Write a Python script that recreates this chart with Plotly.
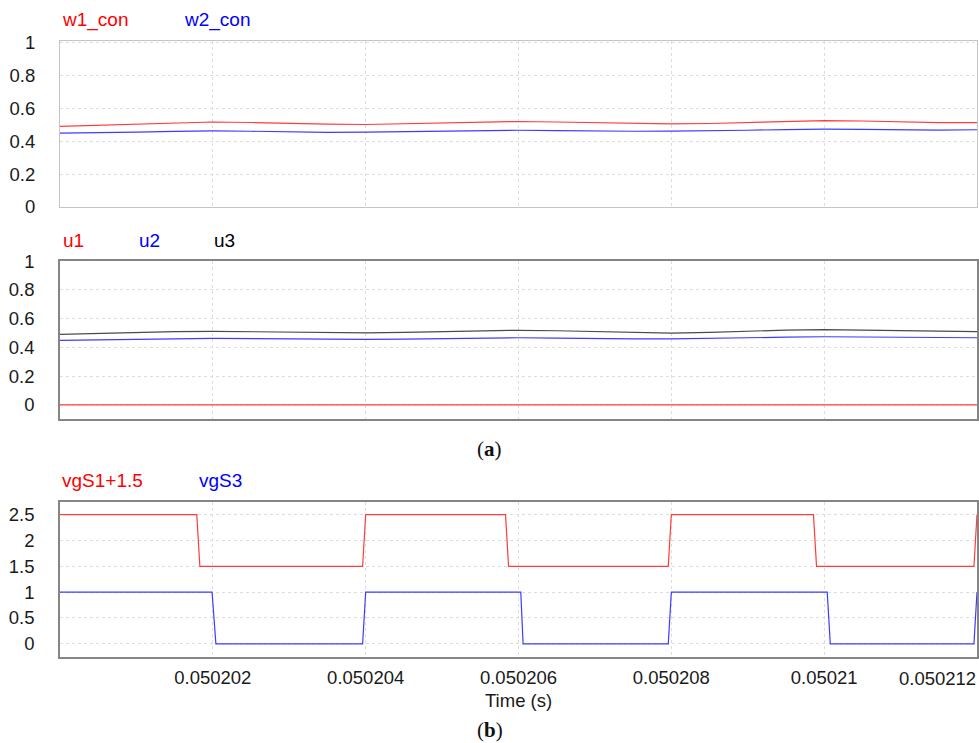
import plotly.graph_objects as go

T0 = 0.0502  # start time (s)

# ---- panel (a) top: control signals, sampled every 0.5 us ----
t_us = [0, 0.5, 1.0, 1.5, 2.0, 2.5, 3.0, 3.5, 4.0, 4.5, 5.0, 5.5, 6.0,
        6.5, 7.0, 7.5, 8.0, 8.5, 9.0, 9.5, 10.0, 10.5, 11.0, 11.5, 12.0]
w1_con = [0.490, 0.497, 0.505, 0.512, 0.516, 0.513, 0.507, 0.503, 0.501, 0.505,
          0.511, 0.516, 0.519, 0.516, 0.511, 0.507, 0.505, 0.507, 0.514, 0.521,
          0.525, 0.522, 0.517, 0.512, 0.512]
w2_con = [0.448, 0.450, 0.454, 0.459, 0.462, 0.460, 0.455, 0.453, 0.455, 0.458,
          0.461, 0.464, 0.466, 0.464, 0.461, 0.460, 0.461, 0.462, 0.466, 0.470,
          0.473, 0.471, 0.467, 0.467, 0.469]

# ---- panel (a) middle: modulating signals ----
u1 = [0.0] * 25
u2 = [0.449, 0.451, 0.455, 0.460, 0.463, 0.461, 0.456, 0.454, 0.456, 0.458,
      0.462, 0.465, 0.467, 0.465, 0.461, 0.459, 0.460, 0.462, 0.466, 0.471,
      0.474, 0.471, 0.468, 0.467, 0.467]
u3 = [0.491, 0.498, 0.504, 0.510, 0.512, 0.510, 0.506, 0.502, 0.501, 0.505,
      0.511, 0.517, 0.519, 0.516, 0.510, 0.503, 0.500, 0.505, 0.513, 0.520,
      0.523, 0.520, 0.515, 0.511, 0.510]

# ---- panel (b): gate signals ----
vgs1_t = [0, 1.79, 1.83, 3.96, 4.00, 5.83, 5.87, 7.96, 8.00, 9.86, 9.90, 11.96, 12.0]
vgs1 = [2.5, 2.5, 1.5, 1.5, 2.5, 2.5, 1.5, 1.5, 2.5, 2.5, 1.5, 1.5, 2.5]
vgs3_t = [0, 1.99, 2.04, 3.96, 4.00, 6.03, 6.06, 7.96, 8.00, 10.04, 10.08, 11.96, 12.0]
vgs3 = [1, 1, 0, 0, 1, 1, 0, 0, 1, 1, 0, 0, 1]

x_ticks = [0.050202, 0.050204, 0.050206, 0.050208, 0.05021, 0.050212]
x_tick_text = ["0.050202", "0.050204", "0.050206", "0.050208", "0.05021", "0.050212"]


def tx(ts):
    return [T0 + v * 1e-6 for v in ts]


RED = "#ff0000"
BLUE = "#0000ff"
BLACK = "#000000"
LRED = "#ff3c3c"
LBLUE = "#3c3cff"
LW = 1.2

fig = go.Figure()
fig.add_trace(go.Scatter(x=tx(t_us), y=w1_con, mode="lines", line=dict(color=LRED, width=LW), xaxis="x", yaxis="y"))
fig.add_trace(go.Scatter(x=tx(t_us), y=w2_con, mode="lines", line=dict(color=LBLUE, width=LW), xaxis="x", yaxis="y"))
fig.add_trace(go.Scatter(x=tx(t_us), y=u1, mode="lines", line=dict(color=LRED, width=LW), xaxis="x2", yaxis="y2"))
fig.add_trace(go.Scatter(x=tx(t_us), y=u2, mode="lines", line=dict(color=LBLUE, width=LW), xaxis="x2", yaxis="y2"))
fig.add_trace(go.Scatter(x=tx(t_us), y=u3, mode="lines", line=dict(color="#4a4a4a", width=LW), xaxis="x2", yaxis="y2"))
fig.add_trace(go.Scatter(x=tx(vgs1_t), y=vgs1, mode="lines", line=dict(color=LRED, width=LW), xaxis="x3", yaxis="y3"))
fig.add_trace(go.Scatter(x=tx(vgs3_t), y=vgs3, mode="lines", line=dict(color=LBLUE, width=LW), xaxis="x3", yaxis="y3"))

FONT = "Liberation Sans, Arial, sans-serif"
tickfont = dict(family=FONT, size=18.5, color="#1a1a1a")
grid = dict(showgrid=True, gridcolor="#dddddd", griddash="dot", gridwidth=1, zeroline=False, automargin=False)

xr = [T0, x_ticks[-1]]
common_x = dict(range=xr, tickvals=x_ticks[:-1], ticktext=x_tick_text[:-1], ticks="",
                showline=True, mirror=True, **grid)

PH = 743 - 41 - 86


def dom(top, bottom):
    return [max(0, (657 - bottom) / PH), min(1, (657 - top) / PH)]


fig.update_layout(
    width=979, height=743,
    margin=dict(l=60, r=2, t=41, b=86),
    paper_bgcolor="white", plot_bgcolor="white",
    showlegend=False,
    font=dict(family=FONT, size=18.5, color="#1a1a1a"),
    xaxis=dict(anchor="y", showticklabels=False, linecolor="#c4c4c4", linewidth=1.2, **common_x),
    xaxis2=dict(anchor="y2", matches="x", showticklabels=False, linecolor="#858585", linewidth=1.5, **common_x),
    xaxis3=dict(anchor="y3", matches="x", showticklabels=True, tickfont=tickfont, linecolor="#858585",
                linewidth=1.5, ticklabelstandoff=3, **common_x),
    yaxis=dict(anchor="x", domain=dom(40.7, 207.3), range=[-0.002, 1.008], tickvals=[0, 0.2, 0.4, 0.6, 0.8, 1],
               ticks="", tickfont=tickfont, showline=True, mirror=True, linecolor="#c4c4c4", linewidth=1.2,
               ticklabelstandoff=20, **grid),
    yaxis2=dict(anchor="x2", domain=dom(260.7, 419.3), range=[-0.1, 1.003], tickvals=[0, 0.2, 0.4, 0.6, 0.8, 1],
                ticks="", tickfont=tickfont, showline=True, mirror=True, linecolor="#858585", linewidth=1.5,
                ticklabelstandoff=20, **grid),
    yaxis3=dict(anchor="x3", domain=dom(501.7, 656.7), range=[-0.25, 2.75], tickvals=[0, 0.5, 1, 1.5, 2, 2.5],
                ticks="", tickfont=tickfont, showline=True, mirror=True, linecolor="#858585", linewidth=1.5,
                ticklabelstandoff=20, **grid),
)


def px_x(x):
    return (x - 60) / 917


def px_y(y):
    return (657 - y) / PH


labels = [
    ("w1_con", 60, 20, RED), ("w2_con", 181.7, 20, BLUE),
    ("u1", 61, 240, RED), ("u2", 136.7, 240, BLUE), ("u3", 212.3, 240, BLACK),
    ("vgS1+1.5", 60, 480, RED), ("vgS3", 196.7, 480, BLUE),
]
for text, x, y, c in labels:
    fig.add_annotation(text=text, x=px_x(x), y=px_y(y), xref="paper", yref="paper",
                       xanchor="left", yanchor="middle", showarrow=False,
                       font=dict(family=FONT, size=19, color=c))

# last tick label pushed inside the frame, as in the original
fig.add_annotation(text=x_tick_text[-1], x=px_x(978), y=px_y(678), xref="paper", yref="paper",
                   xanchor="right", yanchor="middle", showarrow=False, font=tickfont)
fig.add_annotation(text="Time (s)", x=px_x(518.5), y=px_y(700), xref="paper", yref="paper",
                   xanchor="center", yanchor="middle", showarrow=False, font=tickfont)
for text, y in [("(<b>a</b>)", 449), ("(<b>b</b>)", 730)]:
    fig.add_annotation(text=text, x=px_x(489.5), y=px_y(y), xref="paper", yref="paper",
                       xanchor="center", yanchor="middle", showarrow=False,
                       font=dict(family="Liberation Serif, Times New Roman, serif", size=21, color="#111111"))

fig.write_html(
    "out.html",
    config={"displayModeBar": False},
    post_script="document.body.style.margin='0';document.body.style.padding='0';document.body.style.overflow='hidden';",
)
